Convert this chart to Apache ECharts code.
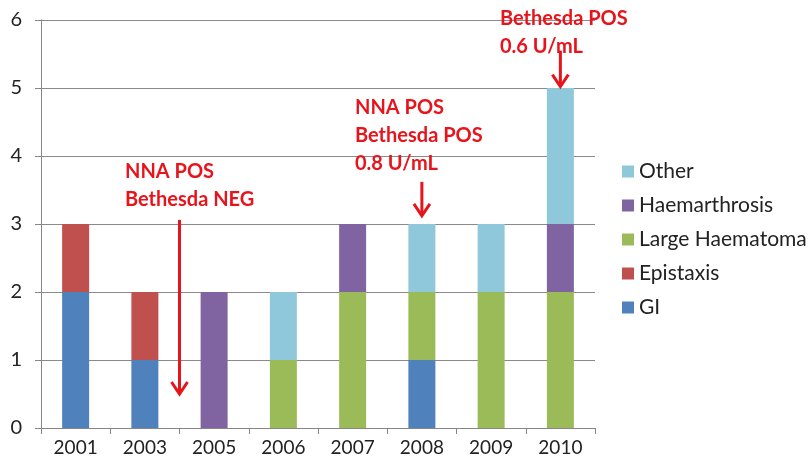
<!DOCTYPE html>
<html>
<head>
<meta charset="utf-8">
<script src="https://cdn.jsdelivr.net/npm/echarts@6/dist/echarts.min.js"></script>
<style>
  html, body { margin: 0; padding: 0; background: #fff; }
  #chart { width: 809px; height: 470px; }
</style>
</head>
<body>
<div id="chart"></div>
<script>
// categories and stacked counts
const years = ['2001', '2003', '2005', '2006', '2007', '2008', '2009', '2010']
const gi             = [2, 1, 0, 0, 0, 1, 0, 0]
const epistaxis      = [1, 1, 0, 0, 0, 0, 0, 0]
const largeHaematoma = [0, 0, 0, 1, 2, 1, 2, 2]
const haemarthrosis  = [0, 0, 2, 0, 1, 0, 0, 1]
const other          = [0, 0, 0, 1, 0, 1, 1, 2]
const yTicks = [0, 1, 2, 3, 4, 5, 6]

const red = '#e8141c'
const font = 'Lato, "Open Sans", sans-serif'

let chartDom = document.getElementById('chart')
let myChart = echarts.init(chartDom)

function bar(name, data, color) {
  return {
    name: name,
    type: 'bar',
    stack: 'total',
    barWidth: 27,
    itemStyle: { color: color },
    data: data.map(v => v === 0 ? '-' : v)
  }
}

let option = {
  animation: false,
  textStyle: { fontFamily: font },
  grid: { left: 41, right: 214, top: 20, bottom: 42 },
  legend: {
    orient: 'vertical',
    left: 617,
    top: 156,
    itemGap: 13,
    itemWidth: 12,
    itemHeight: 12,
    icon: 'rect',
    textStyle: { fontSize: 21, color: '#222', fontFamily: font },
    data: ['Other', 'Haemarthrosis', 'Large Haematoma', 'Epistaxis', 'GI']
  },
  xAxis: {
    type: 'category',
    data: years,
    axisLine: { lineStyle: { color: '#868686' } },
    axisTick: { show: true, length: 6, lineStyle: { color: '#868686' } },
    axisLabel: { fontSize: 19, color: '#222', margin: 10 }
  },
  yAxis: {
    type: 'value',
    min: yTicks[0],
    max: yTicks[yTicks.length - 1],
    interval: 1,
    axisLine: { show: true, lineStyle: { color: '#868686' } },
    axisTick: { show: true, length: 6, lineStyle: { color: '#868686' } },
    axisLabel: { fontSize: 20, color: '#222', margin: 19 },
    splitLine: { lineStyle: { color: '#8a8a8a' } }
  },
  series: [
    bar('GI', gi, '#4f81bd'),
    bar('Epistaxis', epistaxis, '#c0504d'),
    bar('Large Haematoma', largeHaematoma, '#9bbb59'),
    bar('Haemarthrosis', haemarthrosis, '#8064a2'),
    bar('Other', other, '#8fc8da')
  ]
}
myChart.setOption(option)

// annotations placed from data coordinates
function px(xIdx, yVal) {
  let i = Math.floor(xIdx)
  let x0 = myChart.convertToPixel({ xAxisIndex: 0 }, years[i])
  let x1 = myChart.convertToPixel({ xAxisIndex: 0 }, years[Math.min(i + 1, years.length - 1)])
  let x = x0 + (x1 - x0) * (xIdx - i)
  let y = myChart.convertToPixel({ yAxisIndex: 0 }, yVal)
  return [x, y]
}

function arrow(xIdx, yFrom, yTo) {
  let a = px(xIdx, yFrom)
  let b = px(xIdx, yTo)
  return [
    { type: 'line', shape: { x1: a[0], y1: a[1], x2: b[0], y2: b[1] - 2 }, style: { stroke: red, lineWidth: 3 }, z: 10 },
    { type: 'polyline', shape: { points: [[b[0] - 8, b[1] - 12], [b[0], b[1]], [b[0] + 8, b[1] - 12]] }, style: { stroke: red, lineWidth: 3, fill: null }, z: 10 }
  ]
}

function label(left, top, lines) {
  return {
    type: 'text', left: left, top: top, z: 10,
    style: { text: lines.join('\n'), fill: red, font: 'bold 20px ' + font, lineHeight: 28 }
  }
}

myChart.setOption({
  graphic: [
    label(125, 158, ['NNA POS', 'Bethesda NEG']),
    ...arrow(1.5, 3.06, 0.5),
    label(355, 94, ['NNA POS', 'Bethesda POS', '0.8 U/mL']),
    ...arrow(5, 3.62, 3.12),
    label(500, 5, ['Bethesda POS', '0.6 U/mL']),
    ...arrow(7, 5.55, 5.02)
  ]
})

window.addEventListener('resize', () => {
  myChart.resize()
})
</script>
</body>
</html>
